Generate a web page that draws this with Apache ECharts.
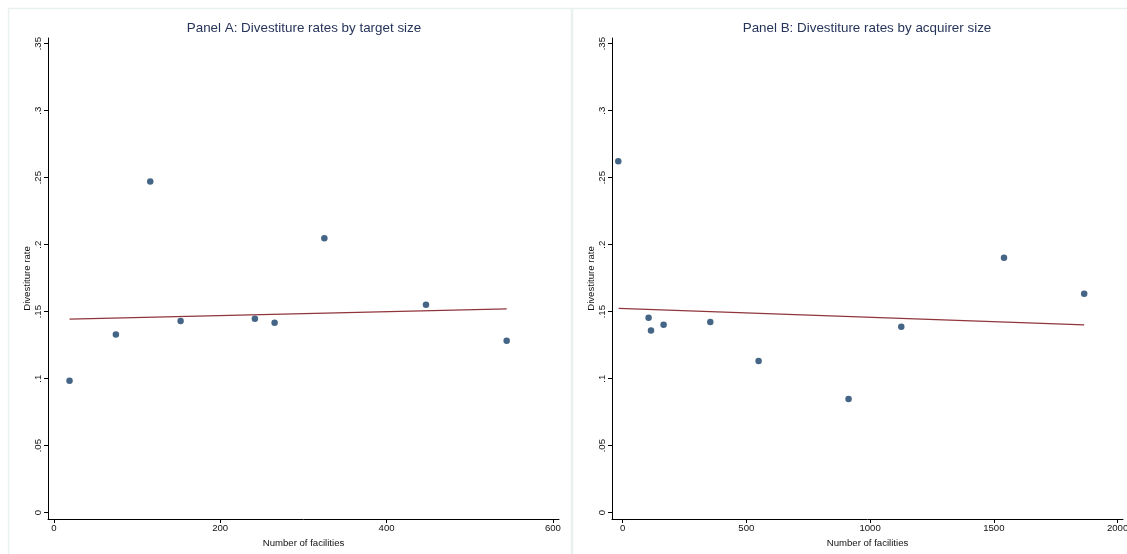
<!DOCTYPE html>
<html>
<head>
<meta charset="utf-8">
<script src="https://cdn.jsdelivr.net/npm/echarts@6/dist/echarts.min.js"></script>
<style>
html,body{margin:0;padding:0;background:#fff;}
#c{width:1127px;height:554px;}
</style>
</head>
<body>
<div id="c"></div>
<script>
// ---- data ----
var titleA = 'Panel A: Divestiture rates by target size';
var titleB = 'Panel B: Divestiture rates by acquirer size';
var xName = 'Number of facilities';
var yName = 'Divestiture rate';

var targetX = [18.9, 74.6, 115.9, 152.4, 241.7, 265.4, 325.2, 447.4, 544.4];
var targetY = [0.0984, 0.133, 0.2471, 0.1430, 0.1447, 0.1417, 0.2048, 0.1551, 0.1283];
var fitAX = [18.9, 544.4];
var fitAY = [0.1444, 0.1521];

var acquirerX = [-17.4, 105, 114.7, 165.7, 354.3, 549.5, 913, 1126, 1541, 1865];
var acquirerY = [0.2623, 0.1454, 0.1360, 0.1402, 0.1422, 0.1131, 0.0848, 0.1387, 0.1902, 0.1633];
var fitBX = [-16, 1865];
var fitBY = [0.1524, 0.1402];

var yTicks = [0, 0.05, 0.1, 0.15, 0.2, 0.25, 0.3, 0.35];
var yTickLabels = ['0', '.05', '.1', '.15', '.2', '.25', '.3', '.35'];
var xTicksA = [0, 200, 400, 600];
var xTicksB = [0, 500, 1000, 1500, 2000];

// ---- chart ----
function pairs(xs, ys) { return xs.map(function (x, i) { return [x, ys[i]]; }); }
function yFmt(v) {
  for (var i = 0; i < yTicks.length; i++) if (Math.abs(yTicks[i] - v) < 1e-9) return yTickLabels[i];
  return '';
}
var FONT = 'Liberation Sans, Arial, sans-serif';
var TXT = '#111';
function xAxis(idx, min, max, ticks) {
  return {
    type: 'value', gridIndex: idx, min: min, max: max,
    name: xName, nameLocation: 'middle', nameGap: 17,
    nameTextStyle: { fontSize: 9.6, color: TXT, fontFamily: FONT },
    splitLine: { show: false },
    axisLine: { show: true, onZero: false, lineStyle: { color: '#000', width: 1 } },
    axisTick: { show: true, length: 4, lineStyle: { color: '#000' }, customValues: ticks },
    axisLabel: { fontSize: 9.6, color: TXT, fontFamily: FONT, margin: 4, customValues: ticks,
      formatter: function (v) { return String(v); } }
  };
}
function yAxis(idx) {
  return {
    type: 'value', gridIndex: idx, min: -0.0047, max: 0.3542,
    name: yName, nameLocation: 'middle', nameGap: 15,
    nameTextStyle: { fontSize: 9.6, color: TXT, fontFamily: FONT },
    splitLine: { show: false },
    axisLine: { show: true, onZero: false, lineStyle: { color: '#000', width: 1 } },
    axisTick: { show: true, length: 4, lineStyle: { color: '#000' }, customValues: yTicks },
    axisLabel: { fontSize: 9.6, color: TXT, fontFamily: FONT, margin: 5, rotate: 90,
      customValues: yTicks, formatter: yFmt }
  };
}
var chart = echarts.init(document.getElementById('c'), null, { renderer: 'canvas' });
chart.setOption({
  animation: false,
  backgroundColor: '#fff',
  graphic: [
    { type: 'rect', shape: { x: 8.5, y: 8.5, width: 563, height: 560 }, style: { fill: 'none', stroke: '#e9f0f0', lineWidth: 1.5 }, silent: true },
    { type: 'rect', shape: { x: 572.5, y: 8.5, width: 563, height: 560 }, style: { fill: 'none', stroke: '#e9f0f0', lineWidth: 1.5 }, silent: true }
  ],
  title: [
    { text: titleA, left: 299, top: 17, textAlign: 'center',
      textStyle: { fontSize: 13.4, fontWeight: 'normal', color: '#26345a', fontFamily: FONT } },
    { text: titleB, left: 862, top: 17, textAlign: 'center',
      textStyle: { fontSize: 13.4, fontWeight: 'normal', color: '#26345a', fontFamily: FONT } }
  ],
  grid: [
    { left: 48, top: 38, width: 511, height: 481, outerBoundsMode: 'none', containLabel: false },
    { left: 612, top: 38, width: 511, height: 481, outerBoundsMode: 'none', containLabel: false }
  ],
  xAxis: [xAxis(0, -7, 607.3, xTicksA), xAxis(1, -42.8, 2021.8, xTicksB)],
  yAxis: [yAxis(0), yAxis(1)],
  series: [
    { type: 'scatter', xAxisIndex: 0, yAxisIndex: 0, data: pairs(targetX, targetY),
      symbol: 'circle', symbolSize: 6.5, itemStyle: { color: '#173f68' } },
    { type: 'line', xAxisIndex: 0, yAxisIndex: 0, data: pairs(fitAX, fitAY),
      symbol: 'none', lineStyle: { color: '#90353b', width: 1.2 } },
    { type: 'scatter', xAxisIndex: 1, yAxisIndex: 1, data: pairs(acquirerX, acquirerY),
      symbol: 'circle', symbolSize: 6.5, itemStyle: { color: '#173f68' } },
    { type: 'line', xAxisIndex: 1, yAxisIndex: 1, data: pairs(fitBX, fitBY),
      symbol: 'none', lineStyle: { color: '#90353b', width: 1.2 } }
  ]
});
</script>
</body>
</html>
